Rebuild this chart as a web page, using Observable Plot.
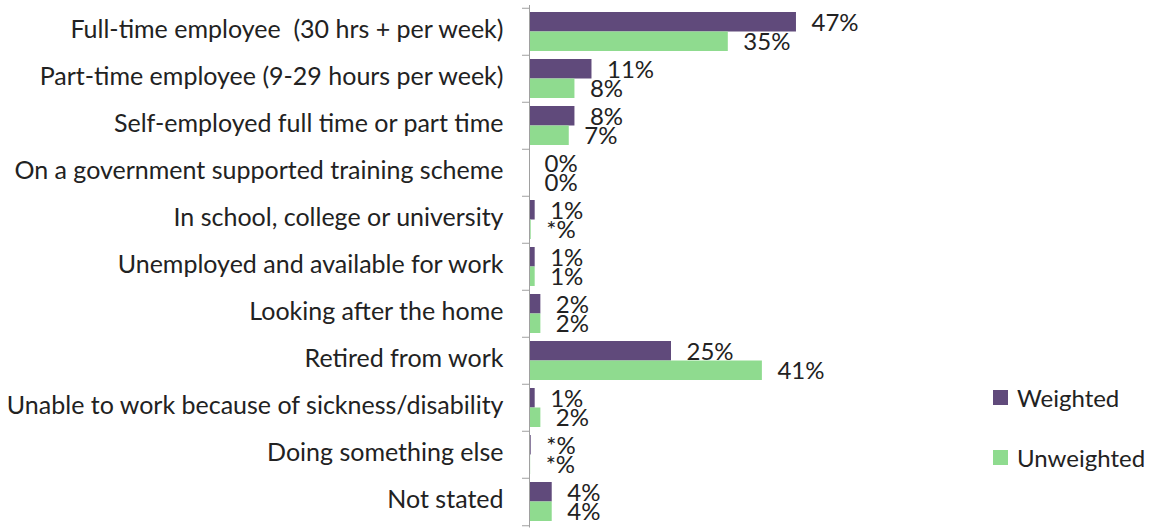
<!DOCTYPE html>
<html>
<head>
<meta charset="utf-8">
<script src="https://cdn.jsdelivr.net/npm/d3@7"></script>
<script src="https://cdn.jsdelivr.net/npm/@observablehq/plot@0.6"></script>
<style>
  html, body { margin: 0; padding: 0; background: #fff; }
  #wrap { position: relative; width: 1150px; height: 530px; font-family: Lato, "Open Sans", sans-serif; color: #222; }
  #legend { position: absolute; left: 993px; top: 383px; font-size: 24px; }
  .item { display: flex; align-items: center; height: 28px; margin-bottom: 32px; }
  .sw { width: 15px; height: 15px; margin-right: 9px; }
  svg text { white-space: pre; }
</style>
</head>
<body>
<div id="wrap"></div>
<script>
const categories = [
  "Full-time employee  (30 hrs + per week)",
  "Part-time employee (9-29 hours per week)",
  "Self-employed full time or part time",
  "On a government supported training scheme",
  "In school, college or university",
  "Unemployed and available for work",
  "Looking after the home",
  "Retired from work",
  "Unable to work because of sickness/disability",
  "Doing something else",
  "Not stated"
];
const seriesNames = ["Weighted", "Unweighted"];
const seriesColors = ["#604a7b", "#8fdb8f"];
const weighted = [47, 11, 8, 0, 1, 1, 2, 25, 1, 0.3, 4];
const weightedLabels = ["47%", "11%", "8%", "0%", "1%", "1%", "2%", "25%", "1%", "*%", "4%"];
const unweighted = [35, 8, 7, 0, 0.3, 1, 2, 41, 2, 0.2, 4];
const unweightedLabels = ["35%", "8%", "7%", "0%", "*%", "1%", "2%", "41%", "2%", "*%", "4%"];

const wData = categories.map((c, i) => ({cat: c, series: seriesNames[0], value: weighted[i], label: weightedLabels[i]}));
const uData = categories.map((c, i) => ({cat: c, series: seriesNames[1], value: unweighted[i], label: unweightedLabels[i]}));

const half = 47.5 / 2;
const chart = Plot.plot({
  width: 1150,
  height: 530,
  marginLeft: 529,
  marginRight: 337,
  marginTop: 5,
  marginBottom: 2.5,
  style: {fontFamily: "Lato, 'Open Sans', sans-serif", fontSize: "24px", color: "#222", background: "#fff"},
  x: {domain: [0, 50], axis: null},
  y: {domain: categories, paddingInner: 0.18, paddingOuter: 0.09, axis: null},
  color: {domain: seriesNames, range: seriesColors},
  marks: [
    Plot.barX(wData, {x: "value", y: "cat", fill: "series", insetBottom: 19.5}),
    Plot.barX(uData, {x: "value", y: "cat", fill: "series", insetTop: 19.5}),
    Plot.text(wData, {x: "value", y: "cat", text: "label", textAnchor: "start", dx: 15, dy: -9, fill: "#222", fontSize: 24}),
    Plot.text(uData, {x: "value", y: "cat", text: "label", textAnchor: "start", dx: 15, dy: 10, fill: "#222", fontSize: 24}),
    Plot.axisY({tickSize: 0, tickPadding: 26, label: null, fill: "#222", fontSize: 25, dy: -2}),
    Plot.axisY({tickSize: 7, fill: "none", stroke: "#a0a0a0", dy: -half, label: null}),
    Plot.axisY([categories[categories.length - 1]], {tickSize: 7, fill: "none", stroke: "#a0a0a0", dy: half, label: null}),
    Plot.ruleX([0], {stroke: "#a0a0a0"})
  ]
});

const wrap = document.getElementById("wrap");
wrap.appendChild(chart);
const legend = document.createElement("div");
legend.id = "legend";
seriesNames.forEach((s, i) => {
  const it = document.createElement("div");
  it.className = "item";
  const sw = document.createElement("div");
  sw.className = "sw";
  sw.style.background = seriesColors[i];
  const t = document.createElement("span");
  t.textContent = s;
  it.appendChild(sw); it.appendChild(t);
  legend.appendChild(it);
});
wrap.appendChild(legend);
</script>
</body>
</html>
